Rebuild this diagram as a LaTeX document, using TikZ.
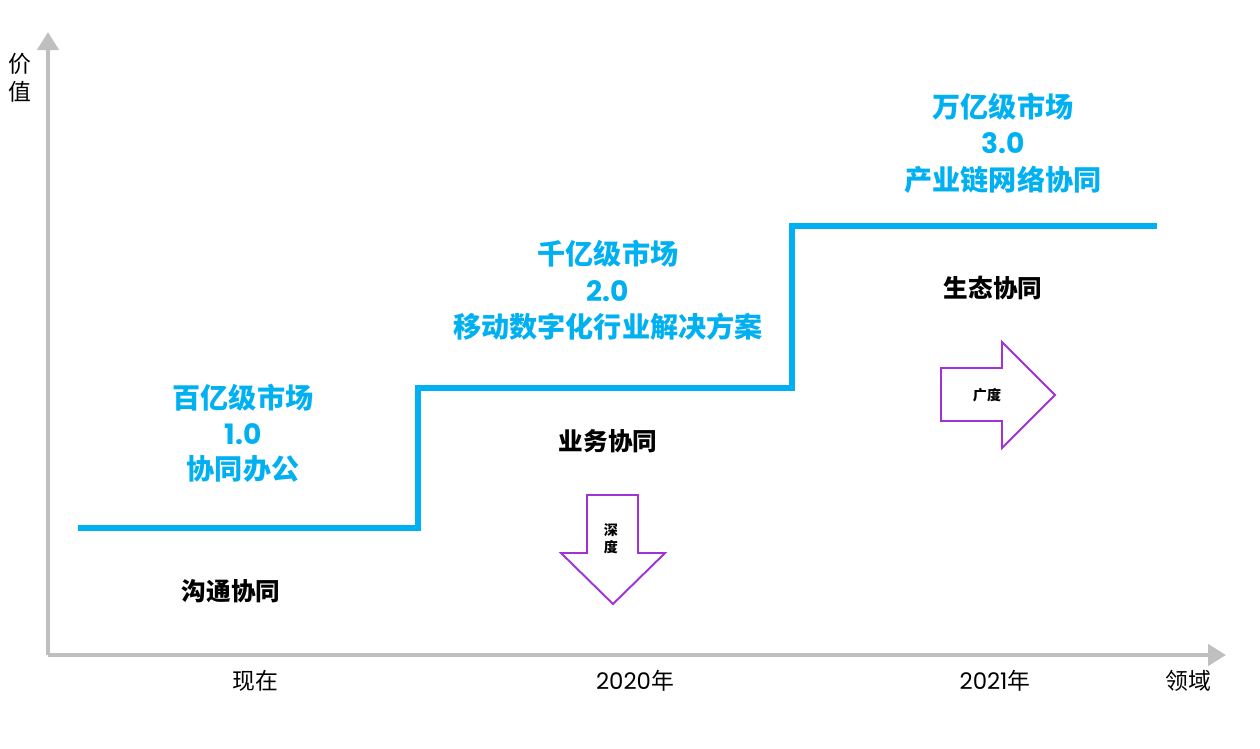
\documentclass[tikz,border=0pt]{standalone}
\usepackage{fontspec}
\setmainfont{Noto Sans CJK SC}
\newfontfamily\digits{Poppins}
\usetikzlibrary{arrows.meta}
\definecolor{stepblue}{RGB}{0,176,240}
\definecolor{axisgray}{RGB}{191,191,191}
\definecolor{arrowpurple}{RGB}{160,50,215}
\tikzset{
  axis/.style={line width=2.8pt,draw=axisgray,-{Triangle[length=0.36cm,width=0.42cm]}},
  stair/.style={line width=3.4pt,draw=stepblue,line join=miter},
  market/.style={font=\fontsize{16}{19}\selectfont\bfseries,text=stepblue,inner sep=0pt},
  stage/.style={font=\fontsize{14}{17}\selectfont\bfseries,inner sep=0pt},
  tick/.style={font=\fontsize{13}{16}\selectfont,inner sep=0pt},
  blockarrow/.style={line width=1.1pt,draw=arrowpurple,fill=white},
  blocklabel/.style={font=\fontsize{8}{9.5}\selectfont\bfseries,inner sep=0pt,align=center}
}
\begin{document}
\begin{tikzpicture}[x=0.02cm,y=-0.02cm]
\useasboundingbox (0,0) rectangle (1260,748);
\coordinate (origin) at (48,655);
\coordinate (ytip) at (48,32);
\coordinate (xtip) at (1226,655);
\draw[axis] (origin) -- (ytip);
\draw[axis] (origin) -- (xtip);
\node[tick,align=center] (yname) at (20,78) {价\\值};
\node[tick] (xname) at (1188,681) {领域};
\node[tick] (now) at (255,681) {现在};
\node[tick] (y2020) at (635,681) {{\digits 2020}年};
\node[tick] (y2021) at (995,681) {{\digits 2021}年};
\coordinate (s0) at (78,528);
\coordinate (s1) at (418,528);
\coordinate (s2) at (418,388);
\coordinate (s3) at (792,388);
\coordinate (s4) at (792,226);
\coordinate (s5) at (1157,226);
\draw[stair] (s0) -- (s1) -- (s2) -- (s3) -- (s4) -- (s5);
\node[market] (m1a) at (243,398) {百亿级市场};
\node[market] (m1b) at (243,434) {\digits 1.0};
\node[market] (m1c) at (243,469) {协同办公};
\node[market] (m2a) at (608,254) {千亿级市场};
\node[market] (m2b) at (608,291) {\digits 2.0};
\node[market] (m2c) at (608,327) {移动数字化行业解决方案};
\node[market] (m3a) at (1003,107) {万亿级市场};
\node[market] (m3b) at (1003,143) {\digits 3.0};
\node[market] (m3c) at (1003,180) {产业链网络协同};
\node[stage] (c1) at (231,591) {沟通协同};
\node[stage] (c2) at (608,441) {业务协同};
\node[stage] (c3) at (993,288) {生态协同};
\draw[blockarrow] (587,495) -- (638,495) -- (638,553) -- (665,553) -- (613,604) -- (561,553) -- (587,553) -- cycle;
\node[blocklabel] (depth) at (611,539) {深\\度};
\draw[blockarrow] (941,368) -- (1002,368) -- (1002,342) -- (1055,395) -- (1002,448) -- (1002,421) -- (941,421) -- cycle;
\node[blocklabel] (breadth) at (987,395) {广度};
\end{tikzpicture}
\end{document}
